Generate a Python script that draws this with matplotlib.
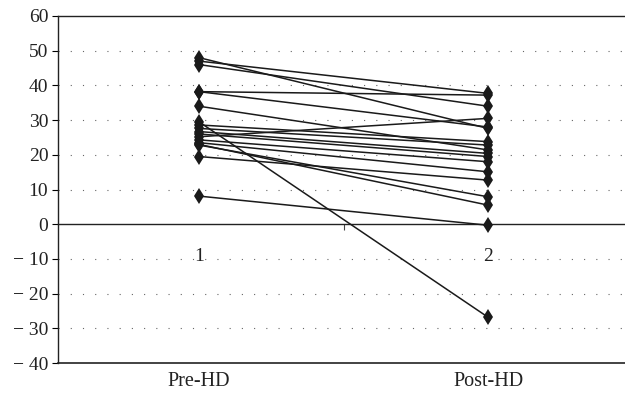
import numpy as np
import matplotlib.pyplot as plt
import matplotlib.ticker as mticker

# paired values, pre / post dialysis
pre = [48.0, 47.0, 46.0, 38.2, 38.2, 34.0, 29.5, 28.6, 27.6, 26.7,
       26.0, 25.2, 24.3, 23.5, 23.0, 22.8, 19.5, 8.1]
post = [27.6, 37.7, 34.0, 37.2, 28.0, 21.4, -26.8, 23.8, 22.8, 20.4,
        19.5, 30.5, 18.0, 15.1, 5.5, 7.9, 12.7, -0.3]
categories = ["Pre-HD", "Post-HD"]
cat_numbers = ["1", "2"]
yticks = [-40, -30, -20, -10, 0, 10, 20, 30, 40, 50, 60]
ytick_labels = ["\u2212 40", "\u2212 30", "\u2212 20", "\u2212 10", "0",
                "10", "20", "30", "40", "50", "60"]

plt.rcParams['font.family'] = ['Liberation Serif', 'DejaVu Serif']

fig = plt.figure(figsize=(6.25, 3.94), dpi=100)
# axes runs a little past the right edge, like the original crop
ax = fig.add_axes([58/625, 31/394, (632.5-58)/625, 347/394])
ax.set_xlim(0.512, 2.5)
ax.set_ylim(-40, 60)

# dotted gridlines (not at 0)
for v in yticks:
    if v not in (0, -40, 60):
        ax.axhline(v, color='#666666', lw=0.8, ls=(0, (1, 10)), zorder=0)

x = [1, 2]
for a, b in zip(pre, post):
    ax.plot(x, [a, b], color='#1a1a1a', lw=1.1, marker='d', markersize=8,
            markeredgewidth=0, markerfacecolor='#1a1a1a', zorder=3)

# axis line at zero carries the category numbers
ax.spines['bottom'].set_position(('data', 0))
ax.spines['right'].set_visible(False)
for s in ['bottom', 'top', 'left']:
    ax.spines[s].set_color('#222222')
    ax.spines[s].set_linewidth(1.0)
ax.axhline(-40, color='#222222', lw=1.2, clip_on=False)

ax.xaxis.set_major_locator(mticker.FixedLocator([1.5]))
ax.xaxis.set_major_formatter(mticker.NullFormatter())
ax.xaxis.set_minor_locator(mticker.FixedLocator(x))
ax.xaxis.set_minor_formatter(mticker.FixedFormatter(cat_numbers))
ax.tick_params(axis='x', which='major', direction='out', length=4, width=0.8, color='#444444')
ax.tick_params(axis='x', which='minor', length=0, pad=17, labelsize=14, labelcolor='#222222')

ax.set_yticks(yticks)
ax.set_yticklabels(ytick_labels)
ax.tick_params(axis='y', direction='out', length=4, width=0.8, labelsize=14,
               labelcolor='#222222', pad=3)

for xi, name in zip(x, categories):
    ax.text(xi, -45.3, name, ha='center', va='center', fontsize=14.5,
            color='#222222', clip_on=False)

plt.savefig("out.png", dpi=100)
